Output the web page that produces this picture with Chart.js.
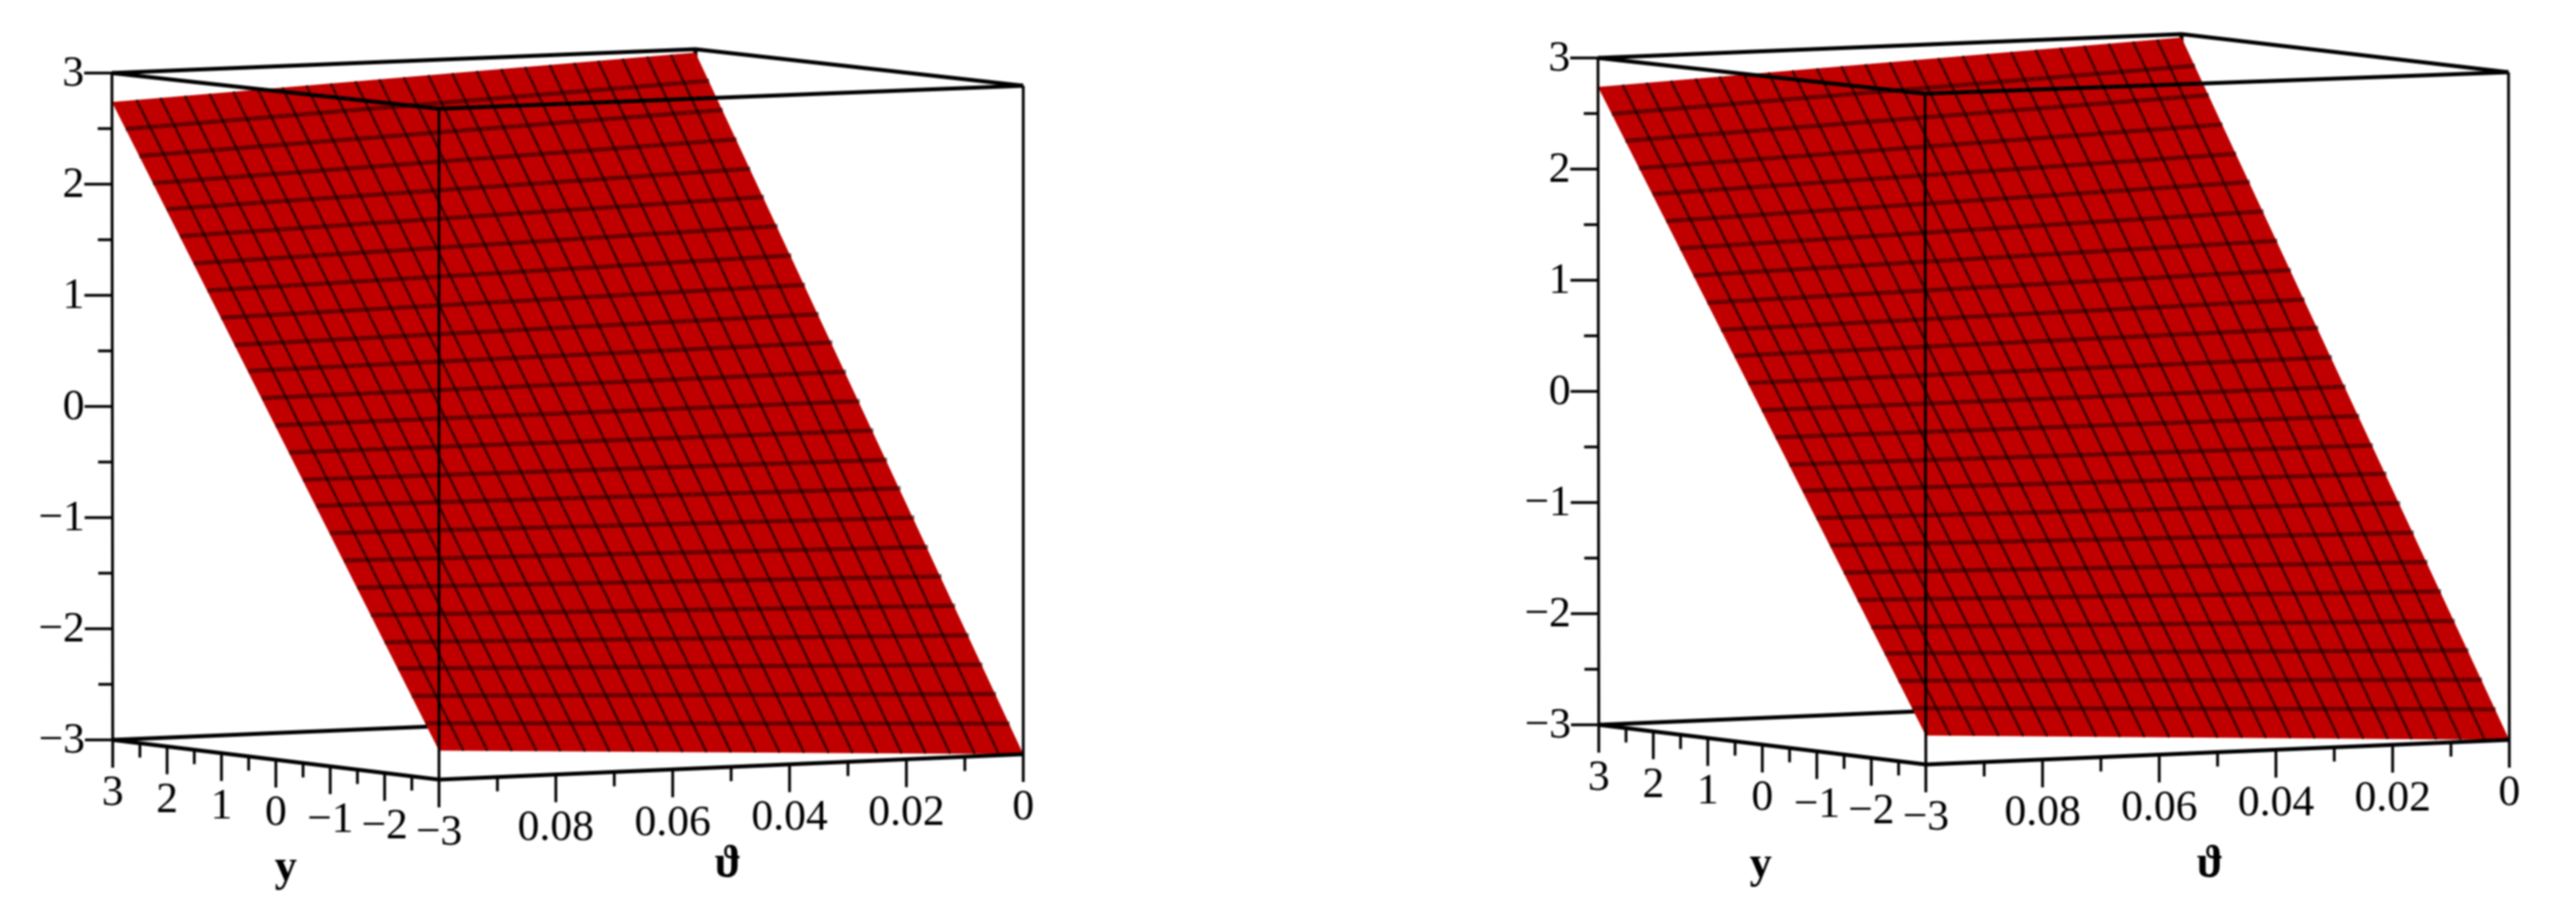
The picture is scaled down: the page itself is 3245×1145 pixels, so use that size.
<!DOCTYPE html>
<html>
<head>
<meta charset="utf-8">
<script src="https://cdn.jsdelivr.net/npm/chart.js@4"></script>
<style>
    html, body { margin: 0; background: #fff; }
    #wrap { display: flex; width: 3245px; height: 1145px; overflow: hidden; }
    canvas { display: block; filter: blur(1px); }
</style>
</head>
<body>
<div id="wrap">
    <canvas id="plotLeft" width="1622" height="1145"></canvas>
    <canvas id="plotRight" width="1623" height="1145"></canvas>
</div>
<script>
// axis values
const yTicks = [3, 2, 1, 0, -1, -2, -3];
const yTickLabels = ['3', '2', '1', '0', '\u22121', '\u22122', '\u22123'];
const yMinorTicks = [2.5, 1.5, 0.5, -0.5, -1.5, -2.5];
const thetaTicks = [0.1, 0.08, 0.06, 0.04, 0.02, 0];
const thetaTickLabels = ['', '0.08', '0.06', '0.04', '0.02', '0'];
const thetaMinorTicks = [0.09, 0.07, 0.05, 0.03, 0.01];
const zTicks = [3, 2, 1, 0, -1, -2, -3];
const zTickLabels = ['3', '2', '1', '0', '\u22121', '\u22122', '\u22123'];
const zMinorTicks = [2.5, 1.5, 0.5, -0.5, -1.5, -2.5];

// surface mesh, one z per y gridline, read at the two theta edges of the box
const meshY = [3, 2.75, 2.5, 2.25, 2, 1.75, 1.5, 1.25, 1, 0.75, 0.5, 0.25, 0, -0.25, -0.5, -0.75, -1, -1.25, -1.5, -1.75, -2, -2.25, -2.5, -2.75, -3];
const meshTheta = [0.1, 0.0958, 0.0917, 0.0875, 0.0833, 0.0792, 0.075, 0.0708, 0.0667, 0.0625, 0.0583, 0.0542, 0.05, 0.0458, 0.0417, 0.0375, 0.0333, 0.0292, 0.025, 0.0208, 0.0167, 0.0125, 0.0083, 0.0042, 0];
const zAtThetaMax = [2.74, 2.51, 2.28, 2.05, 1.83, 1.6, 1.37, 1.14, 0.91, 0.68, 0.46, 0.23, 0, -0.23, -0.46, -0.68, -0.91, -1.14, -1.37, -1.6, -1.83, -2.05, -2.28, -2.51, -2.74];
const zAtThetaZero = [2.97, 2.73, 2.48, 2.23, 1.98, 1.74, 1.49, 1.24, 0.99, 0.74, 0.5, 0.25, 0, -0.25, -0.5, -0.74, -0.99, -1.24, -1.49, -1.74, -1.99, -2.24, -2.49, -2.74, -3];

const Y_MAX = 3, Y_MIN = -3, THETA_MAX = 0.1, THETA_MIN = 0, Z_MAX = 3, Z_MIN = -3;

// where the box corners land in the picture, for each of the two views
const viewLeft = {
    canvas: 'plotLeft', xRange: [0, 1622],
    left: [[142, 932], [141, 92]], front: [[553, 982], [553, 137]],
    back: [[878, 901], [876, 62]], right: [[1289, 950], [1289, 108]],
    yTitle: [360, 1095], thetaTitle: [917, 1090]
};
const viewRight = {
    canvas: 'plotRight', xRange: [1622, 3245],
    left: [[2014, 913], [2013, 73]], front: [[2426, 963], [2425, 118]],
    back: [[2750, 882], [2748, 43]], right: [[3161, 932], [3160, 91]],
    yTitle: [2218, 1091], thetaTitle: [2784, 1090]
};

const TICK_MAJOR = 35, TICK_MINOR = 18;
const FONT_LABEL = '55px "Liberation Serif"';
const FONT_TITLE = 'bold 56px "Liberation Serif"';

function lerp(a, b, t) { return a + (b - a) * t; }

// trilinear map from (y, theta, z) to picture coordinates
function project(view, y, theta, z) {
    const u = (Y_MAX - y) / (Y_MAX - Y_MIN);
    const v = (THETA_MAX - theta) / (THETA_MAX - THETA_MIN);
    const w = (z - Z_MIN) / (Z_MAX - Z_MIN);
    const at = i => {
        const near = lerp(lerp(view.left[0][i], view.left[1][i], w), lerp(view.front[0][i], view.front[1][i], w), u);
        const far = lerp(lerp(view.back[0][i], view.back[1][i], w), lerp(view.right[0][i], view.right[1][i], w), u);
        return lerp(near, far, v);
    };
    return { x: at(0), y: at(1) };
}

// several separate polylines in one dataset, NaN points break the line
function joinLines(lines) {
    const pts = [];
    lines.forEach(line => {
        pts.push(...line);
        pts.push({ x: NaN, y: NaN });
    });
    return pts;
}

function lineSet(data, color, width, order) {
    return { data, borderColor: color, borderWidth: width, order, pointRadius: 0, showLine: true, fill: false, borderCapStyle: 'butt' };
}

function zAt(i, theta) {
    const v = (THETA_MAX - theta) / (THETA_MAX - THETA_MIN);
    return lerp(zAtThetaMax[i], zAtThetaZero[i], v);
}

function buildDatasets(view) {
    const p = (y, t, z) => project(view, y, t, z);
    const last = meshY.length - 1;

    const surface = [
        p(meshY[0], THETA_MAX, zAtThetaMax[0]),
        p(meshY[0], THETA_MIN, zAtThetaZero[0]),
        p(meshY[last], THETA_MIN, zAtThetaZero[last]),
        p(meshY[last], THETA_MAX, zAtThetaMax[last]),
        p(meshY[0], THETA_MAX, zAtThetaMax[0])
    ];
    // the outline of the surface carries no mesh line in the picture
    const alongTheta = meshY.slice(1, -1).map((y, i) => [p(y, THETA_MAX, zAtThetaMax[i + 1]), p(y, THETA_MIN, zAtThetaZero[i + 1])]);
    const alongY = meshTheta.slice(1, -1).map(t => [p(meshY[0], t, zAt(0, t)), p(meshY[last], t, zAt(last, t))]);

    const behind = [
        [p(Y_MAX, THETA_MAX, Z_MAX), p(Y_MAX, THETA_MIN, Z_MAX), p(Y_MIN, THETA_MIN, Z_MAX)],
        [p(Y_MAX, THETA_MAX, Z_MIN), p(Y_MAX, THETA_MIN, Z_MIN), p(Y_MIN, THETA_MIN, Z_MIN)],
        [p(Y_MAX, THETA_MIN, Z_MIN), p(Y_MAX, THETA_MIN, Z_MAX)]
    ];
    const frontEdges = [
        [p(Y_MAX, THETA_MAX, Z_MAX), p(Y_MIN, THETA_MAX, Z_MAX), p(Y_MIN, THETA_MIN, Z_MAX)],
        [p(Y_MAX, THETA_MAX, Z_MIN), p(Y_MIN, THETA_MAX, Z_MIN), p(Y_MIN, THETA_MIN, Z_MIN)]
    ];
    const uprights = [
        [p(Y_MAX, THETA_MAX, Z_MAX), p(Y_MAX, THETA_MAX, Z_MIN)],
        [p(Y_MIN, THETA_MAX, Z_MAX), p(Y_MIN, THETA_MAX, Z_MIN)],
        [p(Y_MIN, THETA_MIN, Z_MAX), p(Y_MIN, THETA_MIN, Z_MIN)]
    ];

    const down = (pt, len) => [pt, { x: pt.x, y: pt.y + len }];
    const leftward = (pt, len) => [pt, { x: pt.x - len, y: pt.y }];
    const ticks = [
        ...yTicks.map(v => down(p(v, THETA_MAX, Z_MIN), TICK_MAJOR)),
        ...yMinorTicks.map(v => down(p(v, THETA_MAX, Z_MIN), TICK_MINOR)),
        ...thetaTicks.map(v => down(p(Y_MIN, v, Z_MIN), TICK_MAJOR)),
        ...thetaMinorTicks.map(v => down(p(Y_MIN, v, Z_MIN), TICK_MINOR)),
        ...zTicks.map(v => leftward(p(Y_MAX, THETA_MAX, v), TICK_MAJOR)),
        ...zMinorTicks.map(v => leftward(p(Y_MAX, THETA_MAX, v), TICK_MINOR))
    ];

    return [
        lineSet(joinLines(behind), '#000', 5, 6),
        { data: surface, borderColor: '#c00000', borderWidth: 0, backgroundColor: '#c00000', fill: 'shape', showLine: true, pointRadius: 0, order: 5 },
        lineSet(joinLines(alongTheta), 'rgba(50,0,0,0.6)', 5.5, 4),
        lineSet(joinLines(alongY), 'rgba(30,0,0,0.8)', 3, 3),
        lineSet(joinLines(frontEdges), '#000', 5, 2),
        lineSet(joinLines(uprights), '#000', 3.5, 2),
        lineSet(joinLines(ticks), '#000', 3.5, 1)
    ];
}

// oblique axes have no library tick labels, so place them through the chart scales
const axisText = {
    id: 'axisText',
    afterDraw(chart, args, opts) {
        const view = opts.view;
        const { ctx, scales } = chart;
        const put = (text, pt, dx, dy) => ctx.fillText(text, scales.x.getPixelForValue(pt.x) + dx, scales.y.getPixelForValue(pt.y) + dy);
        ctx.save();
        ctx.fillStyle = '#000';
        ctx.font = FONT_LABEL;
        ctx.textBaseline = 'middle';
        ctx.textAlign = 'center';
        yTicks.forEach((v, i) => put(yTickLabels[i], project(view, v, THETA_MAX, Z_MIN), 0, 68));
        thetaTicks.forEach((v, i) => put(thetaTickLabels[i], project(view, Y_MIN, v, Z_MIN), 0, 68));
        ctx.textAlign = 'right';
        zTicks.forEach((v, i) => put(zTickLabels[i], project(view, Y_MAX, THETA_MAX, v), -TICK_MAJOR, 2));
        ctx.textAlign = 'center';
        ctx.font = FONT_TITLE;
        put('y', { x: view.yTitle[0], y: view.yTitle[1] }, 0, 0);
        put('\u03d1', { x: view.thetaTitle[0], y: view.thetaTitle[1] }, 0, 0);
        ctx.restore();
    }
};

function drawPlot(view) {
    const canvas = document.getElementById(view.canvas);
    return new Chart(canvas.getContext('2d'), {
        type: 'scatter',
        data: { datasets: buildDatasets(view) },
        plugins: [axisText],
        options: {
            responsive: false,
            animation: false,
            layout: { padding: 0 },
            elements: { line: { tension: 0 } },
            scales: {
                x: { type: 'linear', display: false, min: view.xRange[0], max: view.xRange[1] },
                y: { type: 'linear', display: false, min: 0, max: 1145, reverse: true }
            },
            plugins: {
                legend: { display: false },
                tooltip: { enabled: false },
                axisText: { view }
            }
        }
    });
}

drawPlot(viewLeft);
drawPlot(viewRight);
</script>
</body>
</html>
